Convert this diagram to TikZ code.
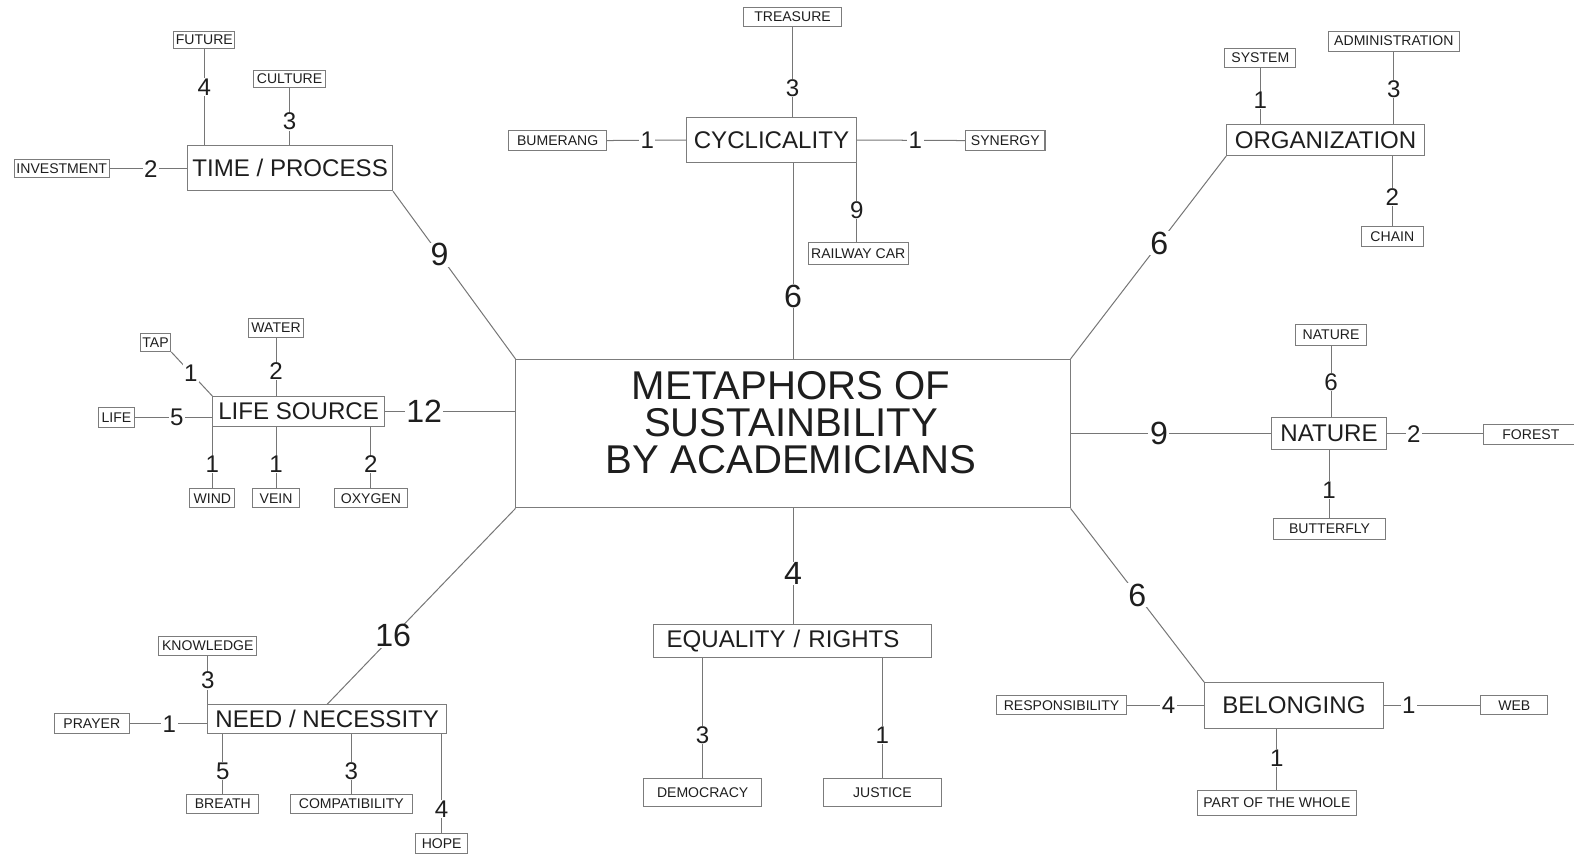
\documentclass[tikz,border=0pt]{standalone}
\usepackage{fontspec}
\setmainfont{Liberation Sans}
\definecolor{linegray}{HTML}{767676}
\definecolor{boxgray}{HTML}{7C7C7C}
\definecolor{txt}{HTML}{1E1E1E}
\tikzset{
  conn/.style={draw=linegray, line width=1pt},
  lbl/.style={draw=boxgray, line width=1pt, rectangle, inner sep=0pt, text=txt, font=\fontsize{14}{16}\selectfont},
  cat/.style={draw=boxgray, line width=1pt, rectangle, inner sep=0pt, text=txt, font=\fontsize{24}{28}\selectfont},
  num/.style={fill=white, inner xsep=1.5pt, inner ysep=0.5pt, text=txt, font=\fontsize{24}{28}\selectfont},
  bignum/.style={num, font=\fontsize{32}{36}\selectfont},
  sz/.style 2 args={minimum width=#1pt, minimum height=#2pt},
}
\begin{document}
\begin{tikzpicture}[x=1pt,y=-1pt]
\useasboundingbox (0,0) rectangle (1568,852);
\clip (0,0) rectangle (1568,852);

% central box
\node[draw=boxgray, line width=1pt, rectangle, inner sep=0pt, sz={552}{148}] (center) at (790,432) {};
\node[text=txt, align=center, inner sep=0pt, font=\fontsize{40}{36.5}\selectfont] (ctext) at (788,421) {METAPHORS OF\\SUSTAINBILITY\\BY ACADEMICIANS};

% category boxes
\node[cat, sz={204}{45}] (time) at (289,167.5) {TIME / PROCESS};
\node[cat, sz={169}{45}] (cyc) at (768.5,139.5) {CYCLICALITY};
\node[cat, sz={197}{31}] (org) at (1320.5,139.5) {ORGANIZATION};
\node[cat, sz={114}{32}] (nature) at (1324,432) {NATURE};
\node[cat, sz={171}{30}] (life) at (297.5,410) {LIFE SOURCE};
\node[cat, sz={238}{29}] (need) at (326,716.5) {NEED / NECESSITY};
\node[cat, sz={277}{33}, text width=277pt, align=left] (eq) at (789.5,638.5) {\hspace*{13pt}EQUALITY / RIGHTS};
\node[cat, sz={178}{46}] (bel) at (1289,703) {BELONGING};

% small labels
\node[lbl, sz={61}{17}] (future) at (203.5,39.5) {FUTURE};
\node[lbl, sz={71}{17}] (culture) at (288.5,78.5) {CULTURE};
\node[lbl, sz={95}{18}] (invest) at (61.5,168) {INVESTMENT};
\node[lbl, sz={97}{19}] (treasure) at (789.5,16.5) {TREASURE};
\node[lbl, sz={97}{20}] (bumerang) at (555.5,140) {BUMERANG};
\node[lbl, sz={79}{20}] (synergy) at (1001.5,140) {SYNERGY};
\node[lbl, sz={100}{21}] (railway) at (855,252.5) {RAILWAY CAR};
\node[lbl, sz={71}{19}] (system) at (1255.5,57.5) {SYSTEM};
\node[lbl, sz={131}{20}] (admin) at (1388.5,41) {ADMINISTRATION};
\node[lbl, sz={62}{20}] (chain) at (1387,236) {CHAIN};
\node[lbl, sz={70}{21}] (natsmall) at (1326,333.5) {NATURE};
\node[lbl, sz={94}{20}] (forest) at (1525,433) {FOREST};
\node[lbl, sz={111}{20}] (butterfly) at (1324.5,527) {BUTTERFLY};
\node[lbl, sz={30}{18}] (tap) at (155,341) {TAP};
\node[lbl, sz={54}{19}] (water) at (275,326.5) {WATER};
\node[lbl, sz={36}{20}] (lifew) at (116,416) {LIFE};
\node[lbl, sz={45}{19}] (wind) at (211.5,496.5) {WIND};
\node[lbl, sz={46}{19}] (vein) at (275,496.5) {VEIN};
\node[lbl, sz={73}{19}] (oxygen) at (369.5,496.5) {OXYGEN};
\node[lbl, sz={98}{19}] (knowledge) at (207,643.5) {KNOWLEDGE};
\node[lbl, sz={75}{20}] (prayer) at (91.5,721) {PRAYER};
\node[lbl, sz={72}{19}] (breath) at (222,800.5) {BREATH};
\node[lbl, sz={122}{19}] (compat) at (350,800.5) {COMPATIBILITY};
\node[lbl, sz={52}{20}] (hope) at (440,840) {HOPE};
\node[lbl, sz={118}{27}] (demo) at (700,789.5) {DEMOCRACY};
\node[lbl, sz={118}{27}] (justice) at (879,789.5) {JUSTICE};
\node[lbl, sz={129}{19}] (resp) at (1057.5,702.5) {RESPONSIBILITY};
\node[lbl, sz={67}{19}] (web) at (1508.5,702.5) {WEB};
\node[lbl, sz={158}{25}] (part) at (1272,799.5) {PART OF THE WHOLE};

% TIME / PROCESS
\draw[conn] (future.south) -- node[num, pos=0.40] {4} (future.south |- time.north);
\draw[conn] (culture.south) -- node[num, pos=0.59] {3} (culture.south |- time.north);
\draw[conn] (invest.east) -- node[num, pos=0.53] {2} (invest.east -| time.west);
\draw[conn] (time.south east) -- node[bignum, pos=0.38] {9} (center.north west);

% CYCLICALITY
\draw[conn] (treasure.south) -- node[num, pos=0.68] {3} (treasure.south |- cyc.north);
\draw[conn] (bumerang.east) -- node[num, pos=0.51] {1} (cyc.west);
\draw[conn] (cyc.east) -- node[num, pos=0.54] {1} (synergy.west);
\draw[conn] (cyc.south east) -- node[num, pos=0.59] {9} (cyc.south east |- railway.north);
\draw[conn] (center.north |- cyc.south) -- node[bignum, pos=0.68] {6} (center.north);

% ORGANIZATION
\draw[conn] (system.south) -- node[num, pos=0.58] {1} (system.south |- org.north);
\draw[conn] (admin.south) -- node[num, pos=0.52] {3} (admin.south |- org.north);
\draw[conn] (chain.north |- org.south) -- node[num, pos=0.58] {2} (chain.north);
\draw[conn] (org.south west) -- node[bignum, pos=0.43] {6} (center.north east);

% NATURE
\draw[conn] (center.east) -- node[bignum, pos=0.44] {9} (nature.west);
\draw[conn] (natsmall.south) -- node[num, pos=0.51] {6} (natsmall.south |- nature.north);
\draw[conn] (nature.east) -- node[num, pos=0.28] {2} (nature.east -| forest.west);
\draw[conn] (nature.south) -- node[num, pos=0.58] {1} (nature.south |- butterfly.north);

% LIFE SOURCE
\draw[conn] (tap.south east) -- node[num, pos=0.48] {1} (life.north west);
\draw[conn] (water.south) -- node[num, pos=0.58] {2} (water.south |- life.north);
\draw[conn] (lifew.east) -- node[num, pos=0.54] {5} (lifew.east -| life.west);
\draw[conn] (wind.north |- life.south) -- node[num, pos=0.61] {1} (wind.north);
\draw[conn] (vein.north |- life.south) -- node[num, pos=0.61] {1} (vein.north);
\draw[conn] (oxygen.north |- life.south) -- node[num, pos=0.61] {2} (oxygen.north);
\draw[conn] (life.east) -- node[bignum, pos=0.30] {12} (life.east -| center.west);

% NEED / NECESSITY
\draw[conn] (knowledge.south) -- node[num, pos=0.51] {3} (knowledge.south |- need.north);
\draw[conn] (prayer.east) -- node[num, pos=0.51] {1} (prayer.east -| need.west);
\draw[conn] (breath.north |- need.south) -- node[num, pos=0.62] {5} (breath.north);
\draw[conn] (compat.north |- need.south) -- node[num, pos=0.62] {3} (compat.north);
\draw[conn] (hope.north |- need.south) -- node[num, pos=0.76] {4} (hope.north);
\draw[conn] (center.south west) -- node[bignum, pos=0.65] {16} (need.north);

% EQUALITY / RIGHTS
\draw[conn] (center.south) -- node[bignum, pos=0.56] {4} (center.south |- eq.north);
\draw[conn] (demo.north |- eq.south) -- node[num, pos=0.64] {3} (demo.north);
\draw[conn] (justice.north |- eq.south) -- node[num, pos=0.64] {1} (justice.north);

% BELONGING
\draw[conn] (resp.east) -- node[num, pos=0.54] {4} (resp.east -| bel.west);
\draw[conn] (bel.east |- web.west) -- node[num, pos=0.26] {1} (web.west);
\draw[conn] (part.north |- bel.south) -- node[num, pos=0.48] {1} (part.north);
\draw[conn] (center.south east) -- node[bignum, pos=0.50] {6} (bel.north west);
\end{tikzpicture}
\end{document}
